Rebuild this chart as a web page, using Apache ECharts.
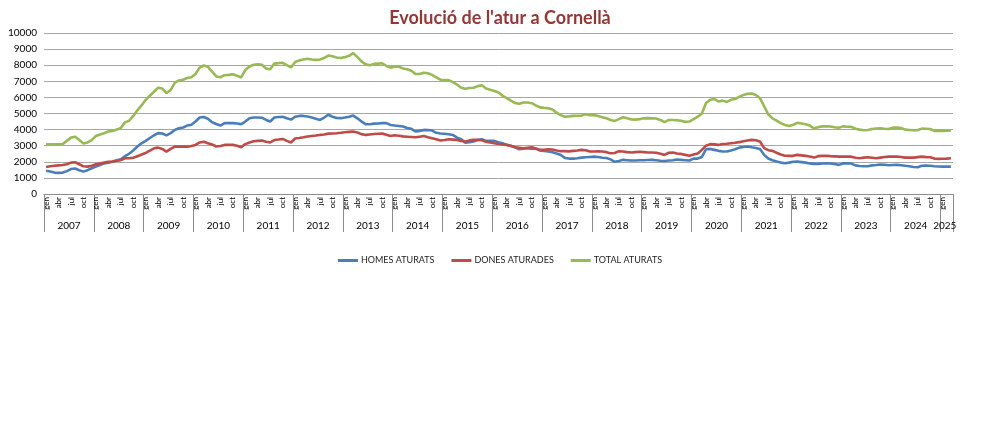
<!DOCTYPE html>
<html>
<head>
<meta charset="utf-8">
<script src="https://cdn.jsdelivr.net/npm/echarts@6/dist/echarts.min.js"></script>
<style>
  html, body { margin: 0; padding: 0; background: #fff; }
  #chart { width: 1000px; height: 430px; }
</style>
</head>
<body>
<div id="chart"></div>
<script>
// years shown on the axis (2025 only has three months)
const years = [2007, 2008, 2009, 2010, 2011, 2012, 2013, 2014, 2015, 2016,
               2017, 2018, 2019, 2020, 2021, 2022, 2023, 2024, 2025];
const monthNames = ['gen', 'feb', 'mar', 'abr', 'mai', 'jun', 'jul', 'ago', 'set', 'oct', 'nov', 'des'];
const monthsIn2025 = 3;

// monthly values, jan 2007 .. mar 2025
const homes = [
  1450,1400,1330,1310,1330,1420,1550,1580,1480,1390,1480,1600,
  1700,1800,1900,1950,2000,2100,2150,2350,2500,2700,2950,3150,
  3300,3480,3650,3780,3760,3640,3780,3980,4080,4130,4250,4300,
  4500,4750,4780,4670,4460,4350,4250,4400,4400,4400,4380,4340,
  4500,4710,4750,4750,4740,4600,4500,4750,4780,4800,4700,4620,
  4800,4850,4850,4810,4750,4680,4600,4750,4920,4800,4720,4710,
  4750,4800,4870,4700,4500,4340,4330,4370,4380,4400,4400,4290,
  4250,4220,4190,4100,4050,3880,3920,3980,3970,3940,3800,3760,
  3740,3710,3670,3500,3400,3190,3220,3260,3350,3400,3300,3300,
  3300,3220,3150,3050,3000,2900,2780,2820,2840,2820,2820,2700,
  2680,2640,2600,2520,2420,2240,2200,2200,2220,2260,2280,2300,
  2320,2300,2250,2240,2150,2000,2050,2120,2100,2080,2080,2100,
  2100,2110,2120,2100,2070,2050,2080,2100,2140,2120,2100,2080,
  2200,2200,2300,2780,2800,2740,2680,2640,2640,2700,2780,2880,
  2920,2950,2900,2860,2800,2430,2200,2100,2020,1950,1910,1950,
  2000,2010,1980,1950,1900,1870,1870,1890,1910,1890,1860,1810,
  1900,1900,1890,1780,1740,1720,1720,1780,1800,1830,1820,1790,
  1800,1810,1790,1750,1720,1680,1660,1750,1760,1750,1720,1710,
  1700,1700,1700
];
const dones = [
  1680,1720,1750,1780,1800,1850,1950,1970,1850,1720,1700,1760,
  1850,1900,1950,2000,2020,2070,2100,2220,2220,2250,2350,2450,
  2550,2700,2840,2880,2800,2630,2800,2940,2940,2950,2940,2980,
  3050,3200,3250,3150,3080,2950,2980,3050,3050,3050,3000,2900,
  3100,3200,3280,3300,3320,3250,3200,3350,3380,3420,3300,3200,
  3450,3480,3520,3570,3600,3630,3670,3700,3750,3760,3770,3800,
  3840,3860,3880,3820,3720,3670,3700,3730,3740,3750,3680,3600,
  3650,3620,3580,3560,3540,3520,3560,3600,3520,3460,3400,3320,
  3350,3400,3380,3360,3300,3260,3330,3360,3360,3340,3250,3200,
  3150,3110,3080,3050,2980,2900,2870,2840,2870,2900,2820,2740,
  2740,2780,2760,2700,2660,2660,2650,2680,2700,2740,2720,2640,
  2640,2650,2640,2600,2530,2550,2660,2640,2600,2580,2600,2620,
  2600,2580,2580,2560,2500,2430,2560,2580,2520,2490,2430,2370,
  2450,2520,2740,3000,3100,3080,3050,3110,3120,3150,3180,3220,
  3280,3320,3360,3340,3260,2850,2720,2680,2560,2450,2380,2370,
  2370,2430,2400,2370,2330,2260,2350,2370,2370,2350,2340,2320,
  2330,2320,2320,2250,2220,2260,2280,2250,2220,2260,2300,2320,
  2320,2320,2300,2260,2260,2260,2290,2320,2290,2280,2200,2180,
  2190,2200,2220
];
const total = [
  3080,3080,3080,3090,3100,3300,3500,3550,3350,3130,3200,3350,
  3600,3700,3780,3880,3920,4000,4100,4450,4550,4850,5200,5500,
  5850,6100,6350,6600,6550,6270,6450,6900,7050,7100,7200,7250,
  7450,7850,7980,7900,7600,7300,7250,7380,7400,7440,7350,7240,
  7700,7920,8030,8050,8030,7800,7750,8100,8130,8150,8000,7860,
  8200,8300,8350,8400,8350,8330,8350,8450,8600,8550,8480,8450,
  8500,8580,8750,8500,8240,8050,8000,8080,8100,8120,7950,7850,
  7900,7900,7800,7750,7650,7450,7450,7530,7500,7400,7250,7100,
  7080,7070,6950,6800,6600,6540,6580,6600,6700,6750,6550,6470,
  6400,6300,6100,5950,5800,5650,5600,5680,5680,5640,5500,5380,
  5350,5330,5250,5050,4900,4800,4820,4850,4860,4870,4960,4900,
  4900,4850,4770,4700,4600,4540,4650,4770,4700,4630,4620,4650,
  4700,4710,4700,4690,4600,4460,4600,4600,4580,4550,4480,4500,
  4650,4800,5000,5650,5850,5900,5750,5800,5720,5850,5900,6050,
  6150,6220,6240,6150,5950,5450,4950,4700,4560,4400,4290,4230,
  4300,4420,4380,4330,4250,4080,4150,4200,4200,4190,4150,4120,
  4200,4180,4170,4050,4000,3960,3980,4040,4060,4080,4050,4040,
  4120,4120,4100,4000,3980,3960,3970,4060,4050,4040,3920,3920,
  3920,3930,3940
];

// build the two category rows (month / year)
const monthCats = [];
const yearCats = [];
years.forEach(y => {
    const n = y === 2025 ? monthsIn2025 : 12;
    for (let m = 0; m < n; m++) {
        monthCats.push(monthNames[m]);
        yearCats.push(String(y));
    }
});
const lastYearMid = monthCats.length - 2; // centre of the short 2025 block

const font = 'Lato, "Liberation Sans", sans-serif';
const axisGrey = '#8c8c8c';

var myChart = echarts.init(document.getElementById('chart'));

var option = {
    animation: false,
    title: {
        text: "Evolució de l'atur a Cornellà",
        left: 'center',
        top: 4,
        textStyle: { color: '#953735', fontSize: 18, fontWeight: 'bold', fontFamily: font }
    },
    legend: {
        top: 251,
        left: 'center',
        icon: 'rect',
        itemWidth: 20,
        itemHeight: 3,
        itemGap: 17,
        textStyle: { fontSize: 9, color: '#222', fontFamily: font, padding: [0, 0, 0, -2] },
        data: ['HOMES ATURATS', 'DONES ATURADES', 'TOTAL ATURATS']
    },
    grid: { left: 44, right: 47, top: 33, bottom: 236, containLabel: false },
    xAxis: [{
        type: 'category',
        data: monthCats,
        boundaryGap: true,
        axisLine: { lineStyle: { color: axisGrey } },
        axisTick: { interval: 0, length: 3, lineStyle: { color: axisGrey } },
        axisLabel: {
            interval: (i) => i % 3 === 0,
            rotate: 90,
            margin: 3,
            fontSize: 8,
            color: '#000',
            fontFamily: font
        },
        splitLine: { show: false }
    }, {
        type: 'category',
        data: yearCats,
        position: 'bottom',
        boundaryGap: true,
        axisLine: { show: true, lineStyle: { color: axisGrey } },
        axisTick: { show: true, interval: (i) => i % 12 === 0, length: 38, lineStyle: { color: axisGrey } },
        axisLabel: {
            interval: (i) => i % 12 === 6 || i === lastYearMid,
            margin: 27,
            fontSize: 10,
            color: '#000',
            fontFamily: font,
            padding: [0, 4, 0, 0]
        },
        splitLine: { show: false }
    }],
    yAxis: {
        type: 'value',
        min: 0,
        max: 10000,
        interval: 1000,
        axisLine: { show: false },
        axisTick: { show: false },
        axisLabel: { fontSize: 10, color: '#000', margin: 7, fontFamily: font, formatter: (v) => String(v) },
        splitLine: { lineStyle: { color: '#a6a6a6', width: 1 } }
    },
    series: [{
        name: 'HOMES ATURATS',
        type: 'line',
        data: homes,
        symbol: 'none',
        lineStyle: { width: 2.6, color: '#4a7ebb' },
        itemStyle: { color: '#4a7ebb' }
    }, {
        name: 'DONES ATURADES',
        type: 'line',
        data: dones,
        symbol: 'none',
        lineStyle: { width: 2.6, color: '#be4b48' },
        itemStyle: { color: '#be4b48' }
    }, {
        name: 'TOTAL ATURATS',
        type: 'line',
        data: total,
        symbol: 'none',
        lineStyle: { width: 2.6, color: '#98b954' },
        itemStyle: { color: '#98b954' }
    }]
};
myChart.setOption(option);
</script>
</body>
</html>
